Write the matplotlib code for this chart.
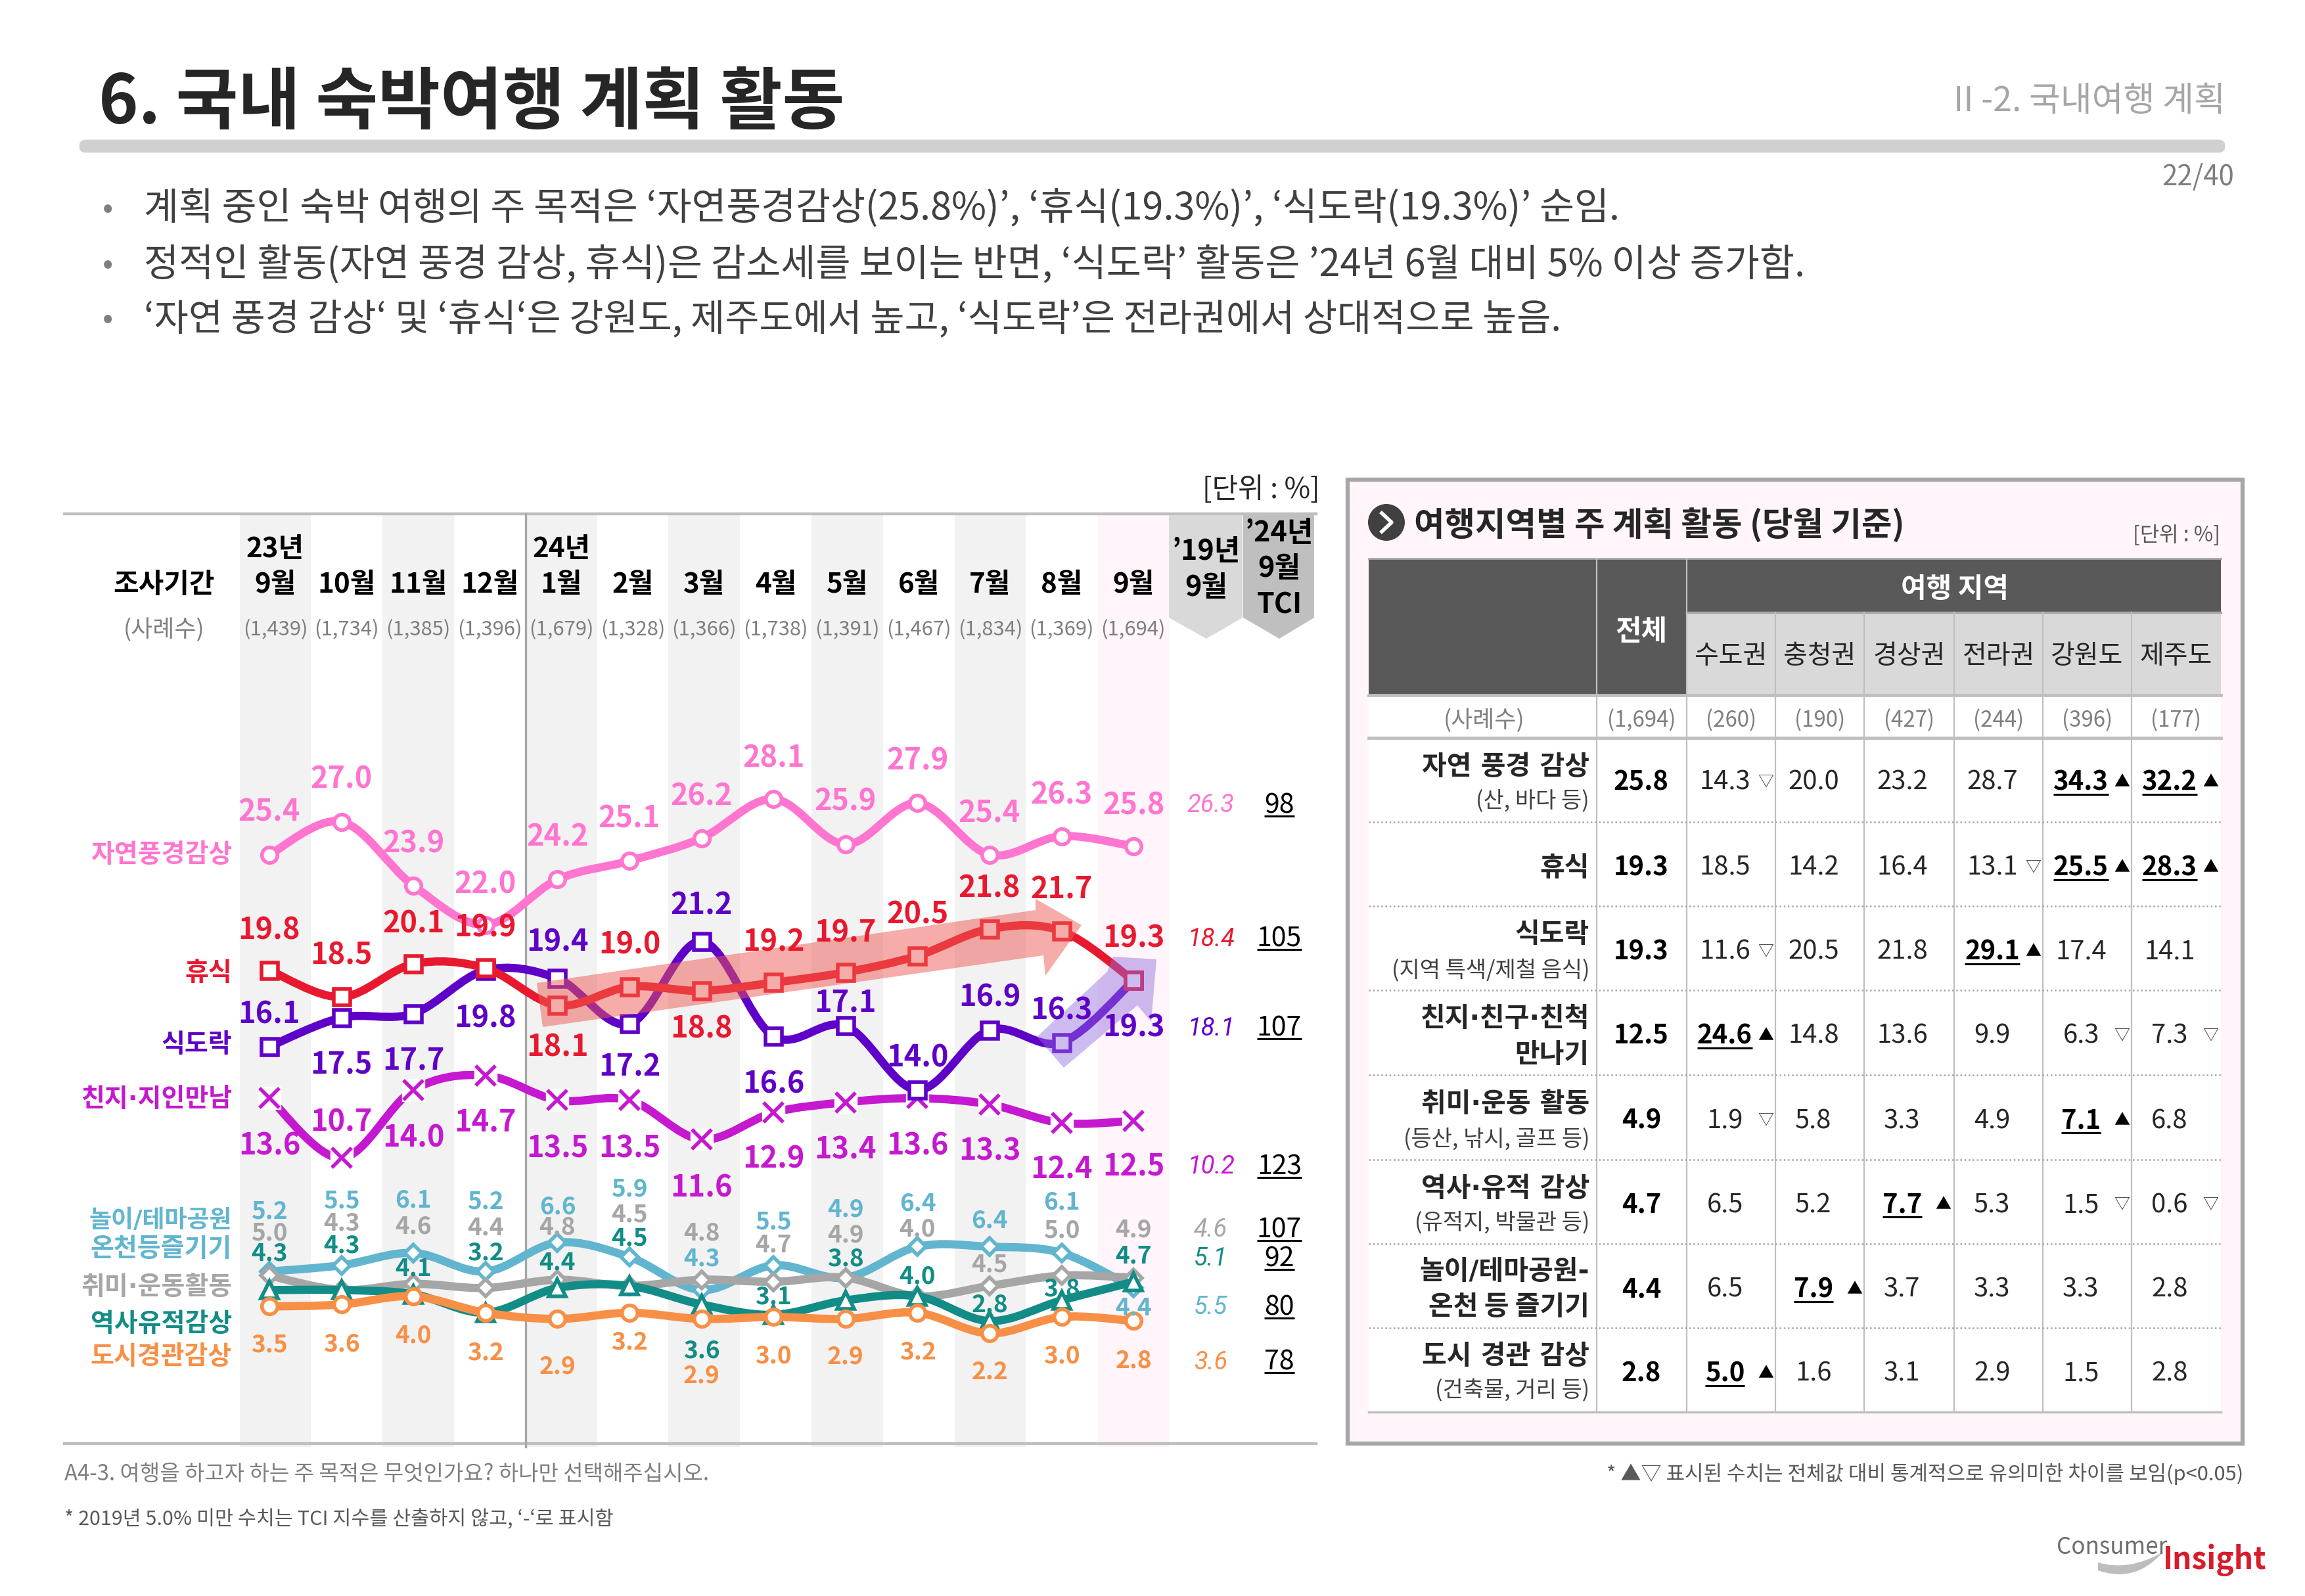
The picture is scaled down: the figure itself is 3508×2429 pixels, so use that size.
import numpy as np
import matplotlib
matplotlib.use('Agg')
import matplotlib.pyplot as plt
from matplotlib.path import Path
from matplotlib.patches import PathPatch, Polygon, Rectangle, FancyBboxPatch, Circle
from matplotlib.transforms import blended_transform_factory

plt.rcParams['font.family'] = ['Noto Sans CJK KR', 'DejaVu Sans']
NARROW_DOT = ['DejaVu Sans', 'Noto Sans CJK KR']  # the CJK middle dot is full width

W, H = 3508, 2429

# ---- chart data
years = {0: '23년', 4: '24년'}
months = ['9월', '10월', '11월', '12월', '1월', '2월', '3월', '4월', '5월', '6월', '7월', '8월', '9월']
samples = ['(1,439)', '(1,734)', '(1,385)', '(1,396)', '(1,679)', '(1,328)', '(1,366)', '(1,738)', '(1,391)',
           '(1,467)', '(1,834)', '(1,369)', '(1,694)']

nature = [25.4, 27.0, 23.9, 22.0, 24.2, 25.1, 26.2, 28.1, 25.9, 27.9, 25.4, 26.3, 25.8]
rest = [19.8, 18.5, 20.1, 19.9, 18.1, 19.0, 18.8, 19.2, 19.7, 20.5, 21.8, 21.7, 19.3]
food = [16.1, 17.5, 17.7, 19.8, 19.4, 17.2, 21.2, 16.6, 17.1, 14.0, 16.9, 16.3, 19.3]
friends = [13.6, 10.7, 14.0, 14.7, 13.5, 13.5, 11.6, 12.9, 13.4, 13.6, 13.3, 12.4, 12.5]
park = [5.2, 5.5, 6.1, 5.2, 6.6, 5.9, 4.3, 5.5, 4.9, 6.4, 6.4, 6.1, 4.4]
hobby = [5.0, 4.3, 4.6, 4.4, 4.8, 4.5, 4.8, 4.7, 4.9, 4.0, 4.5, 5.0, 4.9]
history = [4.3, 4.3, 4.1, 3.2, 4.4, 4.5, 3.6, 3.1, 3.8, 4.0, 2.8, 3.8, 4.7]
city = [3.5, 3.6, 4.0, 3.2, 2.9, 3.2, 2.9, 3.0, 2.9, 3.2, 2.2, 3.0, 2.8]

y19 = ['26.3', '18.4', '18.1', '10.2', '4.6', '5.1', '5.5', '3.6']
tci = ['98', '105', '107', '123', '107', '92', '80', '78']

# ---- table data
regions = ['수도권', '충청권', '경상권', '전라권', '강원도', '제주도']
region_n = ['(260)', '(190)', '(427)', '(244)', '(396)', '(177)']
row_main = ['자연 풍경 감상', '휴식', '식도락', '친지·친구·친척', '취미·운동 활동', '역사·유적 감상', '놀이/테마공원-', '도시 경관 감상']
row_sub = ['(산, 바다 등)', '', '(지역 특색/제철 음식)', '만나기', '(등산, 낚시, 골프 등)', '(유적지, 박물관 등)', '온천 등 즐기기', '(건축물, 거리 등)']
total = ['25.8', '19.3', '19.3', '12.5', '4.9', '4.7', '4.4', '2.8']
tab_capital = ['14.3', '18.5', '11.6', '24.6', '1.9', '6.5', '6.5', '5.0']
tab_chung = ['20.0', '14.2', '20.5', '14.8', '5.8', '5.2', '7.9', '1.6']
tab_gyeong = ['23.2', '16.4', '21.8', '13.6', '3.3', '7.7', '3.7', '3.1']
tab_jeolla = ['28.7', '13.1', '29.1', '9.9', '4.9', '5.3', '3.3', '2.9']
tab_gangwon = ['34.3', '25.5', '17.4', '6.3', '7.1', '1.5', '3.3', '1.5']
tab_jeju = ['32.2', '28.3', '14.1', '7.3', '6.8', '0.6', '2.8', '2.8']
sig_capital = ['d', '', 'd', 'u', 'd', '', '', 'u']
sig_chung = ['', '', '', '', '', '', 'u', '']
sig_gyeong = ['', '', '', '', '', 'u', '', '']
sig_jeolla = ['', 'd', 'u', '', '', '', '', '']
sig_gangwon = ['u', 'u', '', 'd', 'u', 'd', '', '']
sig_jeju = ['u', 'u', '', 'd', '', 'd', '', '']

# ---- label y positions (pixels)
ly_nature = [1232, 1183, 1280, 1342, 1271, 1243, 1208, 1150, 1217, 1155, 1235, 1207, 1222]
ly_rest = [1412, 1450, 1402, 1408, 1590, 1435, 1563, 1431, 1416, 1389, 1349, 1351, 1425]
ly_food = [1540, 1617, 1611, 1546, 1431, 1621, 1374, 1647, 1523, 1607, 1515, 1534, 1561]
ly_friends = [1740, 1704, 1729, 1705, 1744, 1744, 1804, 1761, 1746, 1740, 1748, 1777, 1773]
ly_park = [1840, 1824, 1823, 1825, 1833, 1806, 1912, 1856, 1837, 1828, 1854, 1826, 1987]
ly_hobby = [1873, 1858, 1863, 1865, 1864, 1845, 1873, 1891, 1876, 1867, 1921, 1869, 1868]
ly_history = [1904, 1892, 1927, 1903, 1918, 1881, 2052, 1970, 1912, 1939, 1982, 1958, 1908]
ly_city = [2043, 2042, 2029, 2055, 2076, 2039, 2090, 2060, 2061, 2054, 2084, 2060, 2067]

fig = plt.figure(figsize=(W / 100, H / 100), dpi=100)
bg = fig.add_axes([0, 0, 1, 1])
bg.set_xlim(0, W)
bg.set_ylim(H, 0)
bg.axis('off')

# axes for the lines; 1 unit = 31.4 px, one month = 109.6 px
ax = fig.add_axes([364.5 / W, 1 - 2197 / H, (1779 - 364.5) / W, (2197 - 782) / H])
ax.set_xlim(-0.415, 12.49)
ax.set_ylim(-3.14, 41.92)
ax.axis('off')
ax.patch.set_alpha(0)
label_trans = blended_transform_factory(ax.transData, bg.transData)


def T(x, y, s, px, color='k', ha='center', va='center', a=None, z=10, **kw):
    a = bg if a is None else a
    return a.text(x, y + 4, s, fontsize=px * 0.72, color=color, ha=ha, va=va, zorder=z, **kw)


def underlined(x, y, s, px, color='k', off=18, **kw):
    t = T(x, y, s, px, color, **kw)
    w = t.get_window_extent(fig.canvas.get_renderer()).width
    bg.plot([x - w / 2, x + w / 2], [y + off, y + off], color=color, lw=2.2, solid_capstyle='butt', zorder=10)
    return t


def smooth_path(vals):
    p = np.column_stack([np.arange(len(vals)), vals]).astype(float)
    verts = [p[0]]
    codes = [Path.MOVETO]
    for i in range(len(p) - 1):
        p0 = p[max(i - 1, 0)]
        p3 = p[min(i + 2, len(p) - 1)]
        verts += [p[i] + (p[i + 1] - p0) / 6, p[i + 1] - (p3 - p[i]) / 6, p[i + 1]]
        codes += [Path.CURVE4] * 3
    return Path(verts, codes)


# ---- slide header
T(150, 154, '6. 국내 숙박여행 계획 활동', 103, '#262626', ha='left', fontweight='bold')
T(3387, 150, 'II -2. 국내여행 계획', 52, '#A6A6A6', ha='right')
T(3400, 266, '22/40', 42, '#7F7F7F', ha='right')
bg.add_patch(FancyBboxPatch((122, 214), 3263, 17, boxstyle='round,pad=0,rounding_size=8', mutation_aspect=1,
                            fc='#D0D0D0', ec='#D0D0D0', lw=2))
bullets = ['계획 중인 숙박 여행의 주 목적은 ‘자연풍경감상(25.8%)’, ‘휴식(19.3%)’, ‘식도락(19.3%)’ 순임.',
           '정적인 활동(자연 풍경 감상, 휴식)은 감소세를 보이는 반면, ‘식도락’ 활동은 ’24년 6월 대비 5% 이상 증가함.',
           '‘자연 풍경 감상‘ 및 ‘휴식‘은 강원도, 제주도에서 높고, ‘식도락’은 전라권에서 상대적으로 높음.']
for yy, s, px in zip([314, 399, 482], bullets, [57.5, 57.7, 56.6]):
    T(164, yy, '•', 48, '#7F7F7F')
    T(219, yy, s, px, '#404040', ha='left')

# ---- chart frame
for i in range(13):
    if i == 12:
        c = '#FFF5FA'
    elif i % 2 == 0:
        c = '#F2F2F2'
    else:
        continue
    bg.add_patch(Rectangle((364.5 + i * 108.8, 784), 108.8, 1418, fc=c, ec='none', zorder=1))
bg.plot([98, 2003], [782, 782], color='#BFBFBF', lw=3.2, zorder=2)
bg.plot([98, 2003], [2197, 2197], color='#BFBFBF', lw=3.2, zorder=2)
bg.plot([800, 800], [782, 2202], color='#A6A6A6', lw=2.4, zorder=2)
T(2009, 743, '[단위 : %]', 43, '#262626', ha='right')

bg.add_patch(Polygon([(1779, 784), (1891, 784), (1891, 940), (1836, 972), (1779, 940)], fc='#D9D9D9', ec='none', zorder=2))
bg.add_patch(Polygon([(1892, 784), (2000, 784), (2000, 940), (1947, 972), (1892, 940)], fc='#BFBFBF', ec='none', zorder=2))
for xx, yy, s in [(1836, 835, '’19년'), (1836, 890, '9월'), (1947, 807, '’24년'), (1947, 861, '9월'), (1947, 916, 'TCI')]:
    T(xx, yy, s, 43, 'k', fontweight='bold')

T(250, 886, '조사기간', 42, 'k', fontweight='bold')
T(250, 955, '(사례수)', 36, '#7F7F7F')
for i, (m, n) in enumerate(zip(months, samples)):
    cx = 419 + i * 108.8
    T(cx, 886, m, 42, 'k', fontweight='bold')
    T(cx, 955, n, 31, '#7F7F7F')
    if i in years:
        T(cx, 832, years[i], 42, 'k', fontweight='bold')

# ---- lines, bottom to top
series = [
    (park, ly_park, '#62B5CF', 'D', '놀이/테마공원', 1853, 37, 37),
    (hobby, ly_hobby, '#A6A6A6', 'D', '취미·운동활동', 1955, 37, 39),
    (history, ly_history, '#128C86', '^', '역사유적감상', 2011, 37, 39),
    (city, ly_city, '#F79046', 'o', '도시경관감상', 2061, 37, 39),
    (friends, ly_friends, '#C518D0', 'x', '친지·지인만남', 1669, 45, 39),
    (food, ly_food, '#5F00C8', 's', '식도락', 1586, 45, 39),
    (rest, ly_rest, '#E8192F', 's', '휴식', 1477, 45, 39),
    (nature, ly_nature, '#FF75CF', 'o', '자연풍경감상', 1297, 45, 39),
]
x = np.arange(13)
for z, (vals, ly, c, mk, name, ny, fs, ns) in enumerate(series):
    zz = 3 + z * 0.1
    ax.add_patch(PathPatch(smooth_path(vals), fill=False, ec=c, lw=9, capstyle='round', joinstyle='round', zorder=zz))
    if mk == 'x':
        ax.plot(x, vals, ls='none', marker='s', ms=24, mfc='white', mec='white', zorder=zz + 0.01, clip_on=False)
        ax.plot(x, vals, ls='none', marker='x', ms=21, mec=c, mew=4, zorder=zz + 0.02, clip_on=False)
    else:
        ms = {'o': 17, 's': 18, 'D': 13, '^': 19}[mk]
        ax.plot(x, vals, ls='none', marker=mk, ms=ms, mfc='white', mec=c, mew=4, zorder=zz + 0.02, clip_on=False)
    for i, (v, yy) in enumerate(zip(vals, ly)):
        T(i, yy, f'{v:.1f}', fs, c, a=ax, z=8, transform=label_trans, fontweight='bold', clip_on=False)
    T(353, ny, name, ns, c, ha='right', family=NARROW_DOT, fontweight='bold')
T(353, 1896, '온천등즐기기', 39, '#62B5CF', ha='right', fontweight='bold')

# trend arrows above the lines
ax.add_patch(Polygon([(817, 1496), (1576, 1385), (1576, 1368), (1646, 1408), (1591, 1485), (1588, 1454), (826, 1563)],
                     transform=bg.transData, fc='#EE5A52', ec='none', alpha=0.5, zorder=5, clip_on=False))
ax.add_patch(Polygon([(1694, 1456), (1760, 1460), (1752, 1555), (1731, 1530), (1619, 1625), (1578, 1578), (1685, 1479)],
                     transform=bg.transData, fc='#8E6BDD', ec='none', alpha=0.45, zorder=5, clip_on=False))

# 2019 and TCI columns
col_y = [1222, 1425, 1561, 1772, 1868, 1912, 1986, 2069]
col_c = ['#FF75CF', '#E8192F', '#5F00C8', '#C518D0', '#A6A6A6', '#128C86', '#62B5CF', '#F79046']
for yy, s, c, t in zip(col_y, y19, col_c, tci):
    T(1843, yy, s, 38, c, family='Roboto', style='italic')
    underlined(1947, yy, t, 41, 'k', off=20)

# ---- table panel
bg.add_patch(Rectangle((2051, 730), 1362, 1467, fc='#FFF5FA', ec='#A6A6A6', lw=4.5, zorder=1))
bg.add_patch(Circle((2110, 795), 28, fc='#404040', ec='none', zorder=3))
bg.plot([2103, 2118, 2103], [781, 795, 809], color='white', lw=4, zorder=4)
T(2152, 795, '여행지역별 주 계획 활동 (당월 기준)', 50.5, '#262626', ha='left', fontweight='bold')
T(3379, 811, '[단위 : %]', 32, '#595959', ha='right')

col_edges = [2083, 2430, 2567, 2702, 2837, 2974, 3109, 3244, 3380]
row_edges = [1124, 1251, 1379, 1507, 1636, 1765, 1893, 2021, 2149]
row_y = [1187, 1317, 1445, 1573, 1702, 1830, 1959, 2087]
L, R = col_edges[0], col_edges[-1]

bg.add_patch(Rectangle((L, 1058), R - L, 1091, fc='white', ec='none', zorder=2))
bg.add_patch(Rectangle((L, 850), R - L, 207, fc='#595959', ec='none', zorder=2))
bg.add_patch(Rectangle((2567, 933), R - 2567, 124, fc='#D9D9D9', ec='none', zorder=2))
bg.plot([L, R], [1058, 1058], color='#BFBFBF', lw=3.5, zorder=3)
bg.plot([L, R], [1123, 1123], color='#BFBFBF', lw=3.5, zorder=3)
bg.plot([2567, R], [932, 932], color='#A6A6A6', lw=2.5, zorder=3)
bg.plot([L, R], [850, 850], color='#A6A6A6', lw=2, zorder=3)
bg.plot([L, R], [2149, 2149], color='#BFBFBF', lw=2.5, zorder=3)
for xx in col_edges[1:-1]:
    bg.plot([xx, xx], [850 if xx < 2600 else 932, 2149], color='#BFBFBF', lw=1.6, zorder=3)
for yy in row_edges[1:-1]:
    bg.plot([L, R], [yy, yy], color='#A6A6A6', lw=1.8, ls=(0, (1, 1.5)), zorder=3)

T(2498, 957, '전체', 43, 'white', fontweight='bold')
T(2975, 893, '여행 지역', 42, 'white', fontweight='bold')
T(2259, 1093, '(사례수)', 36, '#7F7F7F')
T(2498, 1093, '(1,694)', 33, '#7F7F7F')
for j, (r, n) in enumerate(zip(regions, region_n)):
    cx = (col_edges[j + 2] + col_edges[j + 3]) / 2
    T(cx, 995, r, 40, '#262626')
    T(cx, 1093, n, 33, '#7F7F7F')

main_off = [(-23, 28), (1, 0), (-26, 28), (-26, 28), (-25, 28), (-24, 27), (-27, 26), (-26, 26)]
for i in range(8):
    T(2419, row_y[i] + main_off[i][0], row_main[i], 41, '#262626', ha='right', fontweight='bold', z=6,
      family=NARROW_DOT)
    if row_sub[i]:
        two_bold = row_sub[i] in ('만나기', '온천 등 즐기기')
        T(2419, row_y[i] + main_off[i][1], row_sub[i], 41 if two_bold else 34, '#262626' if two_bold else '#404040',
          ha='right', fontweight='bold' if two_bold else 'regular', z=6)
    T(2498, row_y[i], total[i], 40, 'k', fontweight='bold', z=6)

tab_vals = [tab_capital, tab_chung, tab_gyeong, tab_jeolla, tab_gangwon, tab_jeju]
tab_sig = [sig_capital, sig_chung, sig_gyeong, sig_jeolla, sig_gangwon, sig_jeju]
for j, (vals, sig) in enumerate(zip(tab_vals, tab_sig)):
    left = col_edges[j + 2]
    for i in range(8):
        if sig[i] == 'u':
            underlined(left + 58, row_y[i], vals[i], 40, 'k', off=22, fontweight='bold')
            T(left + 120, row_y[i], '▲', 24, 'k')
        else:
            T(left + 58, row_y[i], vals[i], 40, '#262626')
            if sig[i] == 'd':
                T(left + 120, row_y[i], '▽', 24, '#404040')

# ---- footnotes, logo
T(98, 2239, 'A4-3. 여행을 하고자 하는 주 목적은 무엇인가요? 하나만 선택해주십시오.', 33, '#7F7F7F', ha='left')
T(98, 2309, '* 2019년 5.0% 미만 수치는 TCI 지수를 산출하지 않고, ‘-‘로 표시함', 30.5, '#595959', ha='left')
T(3414, 2239, '* ▲▽ 표시된 수치는 전체값 대비 통계적으로 유의미한 차이를 보임(p<0.05)', 31, '#595959', ha='right')
T(3130, 2351, 'Consumer', 35, '#6E6E6E', ha='left')
T(3292, 2370, 'Insight', 46, '#D91C2A', ha='left', fontweight='bold')
swoosh = Path([(3193, 2378), (3240, 2392), (3292, 2362), (3250, 2410), (3193, 2390), (3193, 2378)],
              [Path.MOVETO, Path.CURVE3, Path.CURVE3, Path.CURVE3, Path.CURVE3, Path.CLOSEPOLY])
bg.add_patch(PathPatch(swoosh, fc='#BDBDC0', ec='none', zorder=5))

fig.savefig('out.png', dpi=100)
